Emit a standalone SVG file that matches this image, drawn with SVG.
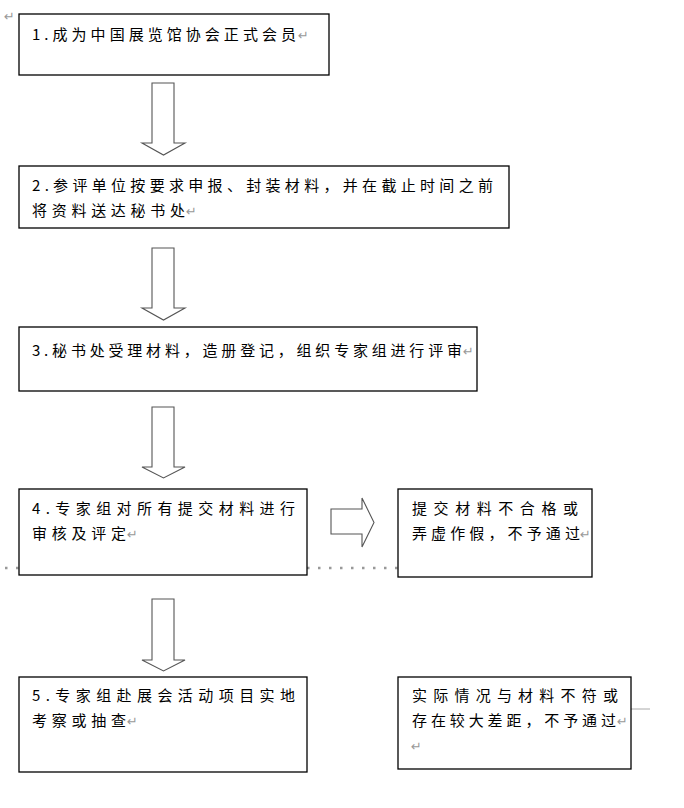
<svg xmlns="http://www.w3.org/2000/svg" width="684" height="808" viewBox="0 0 684 808">
<style>
.box{fill:#fff;stroke:#000;stroke-width:1.3}
.t{font-family:"Noto Sans CJK SC","Noto Sans CJK JP",sans-serif;font-size:15px;fill:#000}
.pm{font-family:"DejaVu Sans",sans-serif;font-size:13px;fill:#999}
.arr{fill:#fff;stroke:#555;stroke-width:1.1;stroke-linejoin:miter}
.dot{stroke:#999;stroke-width:2.5;stroke-dasharray:2.5 8.5;fill:none}
</style>
<rect width="684" height="808" fill="#fff"/>
<text class="pm" x="4" y="21">↵</text>
<g id="connectors">
<polygon class="arr" points="152,83 174,83 174,143 185,143 163.5,155 142,143 152,143"/>
<polygon class="arr" points="152,248 174,248 174,308 185,308 163.5,320 142,308 152,308"/>
<polygon class="arr" points="152,407 174,407 174,467 185,467 163.5,478 142,467 152,467"/>
<polygon class="arr" points="152,599 174,599 174,660 185,660 163.5,671 142,660 152,660"/>
<polygon class="arr" points="331,509 362,509 362,498 374,522.5 362,547 362,534 331,534"/>
<line class="dot" x1="5" y1="568" x2="19" y2="568"/>
<line class="dot" x1="307" y1="568" x2="398" y2="568"/>
<line x1="631" y1="709" x2="650" y2="709" stroke="#aaa" stroke-width="1"/>
</g>
<g id="n1">
<rect class="box" x="19" y="14" width="310" height="61"/>
<text class="t" x="32" y="40" textLength="264" lengthAdjust="spacing">1.成为中国展览馆协会正式会员</text>
<text class="pm" x="298" y="40">↵</text>
</g>
<g id="n2">
<rect class="box" x="19" y="166" width="490" height="62"/>
<text class="t" x="32" y="191" textLength="461" lengthAdjust="spacing">2.参评单位按要求申报、封装材料，并在截止时间之前</text>
<text class="t" x="32" y="216" textLength="153" lengthAdjust="spacing">将资料送达秘书处</text>
<text class="pm" x="186" y="216">↵</text>
</g>
<g id="n3">
<rect class="box" x="19" y="327" width="458" height="64"/>
<text class="t" x="32" y="356" textLength="430" lengthAdjust="spacing">3.秘书处受理材料，造册登记，组织专家组进行评审</text>
<text class="pm" x="463" y="356">↵</text>
</g>
<g id="n4">
<rect class="box" x="19" y="489" width="288" height="86"/>
<text class="t" x="32" y="514" textLength="263" lengthAdjust="spacing">4.专家组对所有提交材料进行</text>
<text class="t" x="32" y="539" textLength="94" lengthAdjust="spacing">审核及评定</text>
<text class="pm" x="127" y="539">↵</text>
</g>
<g id="n5">
<rect class="box" x="398" y="489" width="194" height="88"/>
<text class="t" x="412" y="514" textLength="166" lengthAdjust="spacing">提交材料不合格或</text>
<text class="t" x="412" y="539" textLength="168" lengthAdjust="spacing">弄虚作假，不予通过</text>
<text class="pm" x="580" y="539">↵</text>
</g>
<g id="n6">
<rect class="box" x="19" y="677" width="288" height="95"/>
<text class="t" x="32" y="701" textLength="263" lengthAdjust="spacing">5.专家组赴展会活动项目实地</text>
<text class="t" x="32" y="726" textLength="94" lengthAdjust="spacing">考察或抽查</text>
<text class="pm" x="127" y="726">↵</text>
</g>
<g id="n7">
<rect class="box" x="398" y="677" width="233" height="92"/>
<text class="t" x="412" y="701" textLength="206" lengthAdjust="spacing">实际情况与材料不符或</text>
<text class="t" x="412" y="726" textLength="204" lengthAdjust="spacing">存在较大差距，不予通过</text>
<text class="pm" x="617" y="726">↵</text>
<text class="pm" x="411" y="751">↵</text>
</g>
</svg>
